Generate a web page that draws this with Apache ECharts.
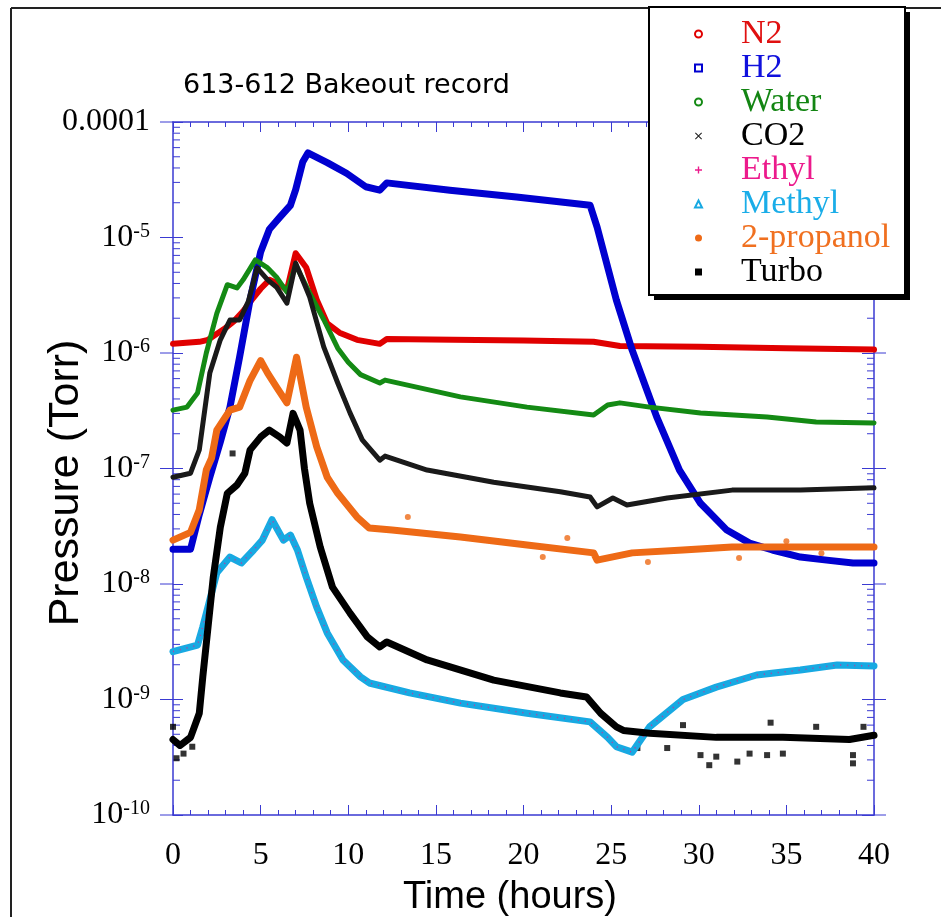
<!DOCTYPE html>
<html>
<head>
<meta charset="utf-8">
<script src="https://cdn.jsdelivr.net/npm/echarts@6/dist/echarts.min.js"></script>
<style>
html,body{margin:0;padding:0;background:#fff;}
#chart{width:941px;height:917px;}
</style>
</head>
<body>
<div id="chart"></div>
<script>
// ---------- data ----------
const xTicks = [0, 5, 10, 15, 20, 25, 30, 35, 40];
const yDecades = [-10, -9, -8, -7, -6, -5, -4];

const n2Time = [0, 1.5, 2, 3, 3.5, 4, 4.5, 5, 5.5, 6, 6.5, 7, 7.6, 8.2, 8.8, 9.5, 10.5, 11.8, 12.2, 16, 20, 24, 25.5, 30, 35, 40];
const n2Pres = [1.2e-6, 1.25e-6, 1.3e-6, 1.65e-6, 1.9e-6, 2.3e-6, 2.9e-6, 3.6e-6, 4.3e-6, 4.0e-6, 3.5e-6, 7.3e-6, 5.5e-6, 2.9e-6, 1.8e-6, 1.5e-6, 1.3e-6, 1.2e-6, 1.32e-6, 1.3e-6, 1.28e-6, 1.25e-6, 1.15e-6, 1.13e-6, 1.1e-6, 1.07e-6];

const h2Time = [0, 1, 1.5, 2.1, 2.7, 3.25, 3.8, 4.4, 5.0, 5.5, 6.1, 6.7, 7.0, 7.4, 7.7, 8.8, 9.9, 11.0, 11.8, 12.2, 15.8, 19.6, 23.8, 24.2, 25.3, 26.2, 27.1, 27.6, 28.9, 30.1, 31.6, 32.9, 34.2, 35.8, 37.3, 38.8, 40];
const h2Pres = [2.0e-8, 2.0e-8, 4.0e-8, 8.4e-8, 1.7e-7, 3.4e-7, 9.2e-7, 2.9e-6, 7.5e-6, 1.18e-5, 1.5e-5, 1.9e-5, 2.6e-5, 4.5e-5, 5.4e-5, 4.45e-5, 3.6e-5, 2.75e-5, 2.57e-5, 2.97e-5, 2.57e-5, 2.24e-5, 1.9e-5, 1.23e-5, 2.87e-6, 1.06e-6, 4.5e-7, 2.8e-7, 9.7e-8, 5.0e-8, 2.93e-8, 2.26e-8, 1.97e-8, 1.71e-8, 1.61e-8, 1.52e-8, 1.52e-8];

const waterTime = [0, 0.8, 1.4, 1.9, 2.5, 3.1, 3.65, 4.0, 4.7, 5.4, 5.9, 6.5, 7.0, 7.8, 8.6, 9.4, 10.0, 10.7, 11.8, 12.1, 16.4, 20.2, 24.0, 24.8, 25.5, 27.2, 30.1, 33.9, 36.7, 40];
const waterPres = [3.2e-7, 3.4e-7, 4.5e-7, 1.0e-6, 2.2e-6, 3.9e-6, 3.66e-6, 4.3e-6, 6.4e-6, 5.45e-6, 4.55e-6, 3.37e-6, 5.8e-6, 3.3e-6, 1.95e-6, 1.1e-6, 8.3e-7, 6.5e-7, 5.5e-7, 5.83e-7, 4.17e-7, 3.4e-7, 2.9e-7, 3.55e-7, 3.7e-7, 3.4e-7, 3.03e-7, 2.79e-7, 2.53e-7, 2.48e-7];

const co2Time = [0, 1.0, 1.5, 2.1, 2.7, 3.25, 3.8, 4.3, 4.8, 5.4, 5.9, 6.5, 7.0, 7.8, 8.6, 9.4, 10.1, 10.8, 11.8, 12.1, 14.5, 18.3, 22.1, 23.8, 24.2, 25.1, 25.9, 28.2, 31.9, 35.8, 40];
const co2Pres = [8.4e-8, 9.1e-8, 1.45e-7, 6.7e-7, 1.3e-6, 1.93e-6, 1.93e-6, 2.8e-6, 5.45e-6, 4.3e-6, 3.73e-6, 2.7e-6, 6.0e-6, 3.05e-6, 1.13e-6, 5.5e-7, 3.03e-7, 1.77e-7, 1.18e-7, 1.28e-7, 9.7e-8, 7.6e-8, 6.3e-8, 5.67e-8, 4.65e-8, 5.55e-8, 4.83e-8, 5.55e-8, 6.5e-8, 6.5e-8, 6.8e-8];

const ethylTime = [0, 1.4, 1.7, 2.1, 2.5, 3.25, 3.9, 4.6, 5.1, 5.65, 6.3, 6.7, 7.1, 7.6, 8.2, 8.8, 9.7, 10.7, 11.2, 13.5, 16.4, 20.2, 23.8, 24.8, 25.3, 26.2, 27.2, 29.1, 31.0, 33.3, 35.8, 37.9, 40];
const ethylPres = [2.6e-9, 2.96e-9, 4.25e-9, 7.3e-9, 1.25e-8, 1.71e-8, 1.52e-8, 1.97e-8, 2.4e-8, 3.6e-8, 2.4e-8, 2.65e-8, 1.97e-8, 1.15e-8, 6.3e-9, 3.77e-9, 2.2e-9, 1.57e-9, 1.39e-9, 1.14e-9, 9.3e-10, 7.6e-10, 6.4e-10, 4.7e-10, 3.9e-10, 3.5e-10, 5.8e-10, 1.0e-9, 1.28e-9, 1.63e-9, 1.8e-9, 1.99e-9, 1.95e-9];

const methylTime = [0, 1.4, 1.7, 2.1, 2.5, 3.25, 3.9, 4.6, 5.1, 5.65, 6.3, 6.7, 7.1, 7.6, 8.2, 8.8, 9.7, 10.7, 11.2, 13.5, 16.4, 20.2, 23.8, 24.8, 25.3, 26.2, 27.2, 29.1, 31.0, 33.3, 35.8, 37.9, 40];
const methylPres = [2.6e-9, 2.96e-9, 4.25e-9, 7.3e-9, 1.25e-8, 1.71e-8, 1.52e-8, 1.97e-8, 2.4e-8, 3.6e-8, 2.4e-8, 2.65e-8, 1.97e-8, 1.15e-8, 6.3e-9, 3.77e-9, 2.2e-9, 1.57e-9, 1.39e-9, 1.14e-9, 9.3e-10, 7.6e-10, 6.4e-10, 4.7e-10, 3.9e-10, 3.5e-10, 5.8e-10, 1.0e-9, 1.28e-9, 1.63e-9, 1.8e-9, 1.99e-9, 1.95e-9];

const propTime = [0, 1.0, 1.5, 1.9, 2.2, 2.5, 3.25, 3.8, 4.4, 5.0, 5.4, 5.9, 6.5, 7.05, 7.6, 8.2, 8.8, 9.4, 10.5, 11.2, 12.5, 16.4, 20.2, 24.0, 24.2, 26.2, 29.1, 31.9, 40];
const propPres = [2.4e-8, 2.8e-8, 4.4e-8, 9.7e-8, 1.23e-7, 2.15e-7, 3.2e-7, 3.4e-7, 5.8e-7, 8.6e-7, 6.7e-7, 5.1e-7, 3.7e-7, 9.2e-7, 3.4e-7, 1.54e-7, 8.4e-8, 6.1e-8, 3.8e-8, 3.05e-8, 2.93e-8, 2.55e-8, 2.18e-8, 1.86e-8, 1.61e-8, 1.86e-8, 1.97e-8, 2.09e-8, 2.09e-8];
const propOutTime = [13.4, 21.1, 22.5, 27.1, 32.3, 35.0, 37.0];
const propOutPres = [3.8e-8, 1.71e-8, 2.5e-8, 1.55e-8, 1.68e-8, 2.35e-8, 1.85e-8];

const turboTime = [0, 0.4, 1.0, 1.5, 1.7, 2.0, 2.3, 2.7, 3.1, 3.65, 4.1, 4.4, 5.0, 5.5, 6.1, 6.5, 6.85, 7.25, 7.5, 7.8, 8.4, 9.1, 10.1, 11.1, 11.8, 12.2, 14.5, 18.3, 22.1, 23.6, 24.4, 25.3, 25.7, 27.2, 31.0, 34.8, 38.6, 40];
const turboPres = [4.5e-10, 4.0e-10, 4.7e-10, 7.6e-10, 1.57e-9, 4.25e-9, 1.15e-8, 3.1e-8, 6.1e-8, 7.2e-8, 9.1e-8, 1.45e-7, 1.87e-7, 2.15e-7, 1.87e-7, 1.66e-7, 3.0e-7, 2.15e-7, 1.0e-7, 5.0e-8, 2.09e-8, 9.4e-9, 5.6e-9, 3.47e-9, 2.85e-9, 3.15e-9, 2.2e-9, 1.47e-9, 1.14e-9, 1.05e-9, 7.6e-10, 5.8e-10, 5.4e-10, 5.1e-10, 4.7e-10, 4.7e-10, 4.5e-10, 4.9e-10];
const turboOutTime = [0.0, 0.2, 0.6, 1.1, 3.4, 26.5, 28.2, 29.1, 30.1, 30.6, 31.0, 32.2, 32.9, 33.9, 34.1, 34.8, 36.7, 38.8, 38.8, 39.4];
const turboOutPres = [5.8e-10, 3.1e-10, 3.4e-10, 3.9e-10, 1.35e-7, 3.8e-10, 3.8e-10, 6.0e-10, 3.3e-10, 2.7e-10, 3.2e-10, 2.9e-10, 3.4e-10, 3.3e-10, 6.3e-10, 3.4e-10, 5.8e-10, 2.8e-10, 3.3e-10, 5.8e-10];

// ---------- style ----------
const AX = '#3a3ad2';
const SERIF = '"Liberation Serif", "Times New Roman", serif';
const SANS = '"Liberation Sans", Arial, sans-serif';

const pairs = (t, p) => t.map((x, i) => [x, p[i]]);

// log axis tick marks (minor inside, major outward extensions)
const logTickData = [];
yDecades.forEach(e => {
  logTickData.push([0, Math.pow(10, e), -13]);
  logTickData.push([40, Math.pow(10, e), 12]);
  if (e < -4) {
    for (let k = 2; k <= 9; k++) {
      logTickData.push([0, k * Math.pow(10, e), 7]);
      logTickData.push([40, k * Math.pow(10, e), -7]);
    }
  }
});

const chart = echarts.init(document.getElementById('chart'), null, {renderer: 'canvas'});

const lineSeries = (name, t, p, color, width, extra) => Object.assign({
  name: name, type: 'line', data: pairs(t, p), showSymbol: false, symbol: 'none',
  lineStyle: {color: color, width: width, join: 'round', cap: 'round'},
  itemStyle: {color: color}, silent: true, animation: false
}, extra || {});

const option = {
  animation: false,
  backgroundColor: '#fff',
  title: {
    text: '613-612 Bakeout record', left: 183, top: 72, padding: 0,
    textStyle: {fontFamily: '"DejaVu Sans", sans-serif', fontSize: 27, fontWeight: 'normal', color: '#000'}
  },
  grid: {left: 173, right: 67, top: 122, bottom: 102, containLabel: false, outerBoundsMode: 'none'},
  graphic: [
    {type: 'line', z: 100, shape: {x1: 11, y1: 8, x2: 11, y2: 917}, style: {stroke: '#222', lineWidth: 2}},
    {type: 'line', z: 100, shape: {x1: 11, y1: 8, x2: 941, y2: 8}, style: {stroke: '#222', lineWidth: 2}},
    {type: 'rect', z: 100, shape: {x: 654, y: 12, width: 256, height: 288}, style: {fill: '#000'}},
    {type: 'rect', z: 101, shape: {x: 649, y: 7, width: 256, height: 288}, style: {fill: '#fff', stroke: '#000', lineWidth: 2}}
  ],
  legend: {
    z: 200,
    orient: 'vertical', left: 694, top: 17, padding: 0, itemGap: 0,
    itemWidth: 7, itemHeight: 7, selectedMode: false,
    itemStyle: {borderWidth: 1},
    lineStyle: {width: 0},
    textStyle: {fontFamily: SERIF, fontSize: 34, lineHeight: 33.3, padding: [0, 0, 0, 34]},
    data: [
      {name: 'N2', icon: 'emptyCircle', textStyle: {color: '#e01010'}},
      {name: 'H2', icon: 'emptyRect', textStyle: {color: '#1010dd'}},
      {name: 'Water', icon: 'emptyCircle', textStyle: {color: '#138513'}},
      {name: 'CO2', icon: 'path://M1,0L5,4L9,0L10,1L6,5L10,9L9,10L5,6L1,10L0,9L4,5L0,1Z', textStyle: {color: '#000'}},
      {name: 'Ethyl', icon: 'path://M4,0H6V4H10V6H6V10H4V6H0V4H4Z', textStyle: {color: '#ec1a8c'}},
      {name: 'Methyl', icon: 'emptyTriangle', textStyle: {color: '#1aade8'}},
      {name: '2-propanol', icon: 'circle', textStyle: {color: '#f07020'}},
      {name: 'Turbo', icon: 'rect', textStyle: {color: '#000'}}
    ]
  },
  xAxis: [
    {
      type: 'value', position: 'bottom', min: 0, max: 40, interval: 5,
      axisLine: {onZero: false, lineStyle: {color: AX, width: 1.5}},
      axisTick: {inside: true, length: 10, lineStyle: {color: AX, width: 1}},
      minorTick: {show: true, splitNumber: 5, length: 5, lineStyle: {color: AX, width: 1}},
      splitLine: {show: false},
      axisLabel: {color: '#000', fontFamily: SERIF, fontSize: 32, margin: 25,
        formatter: v => (xTicks.indexOf(v) >= 0 ? String(v) : '')},
      name: 'Time (hours)', nameLocation: 'middle', nameGap: 64, nameMoveOverlap: false,
      nameTextStyle: {color: '#000', fontFamily: SANS, fontSize: 38, padding: [0, 27, 0, 0]}
    },
    {
      type: 'value', position: 'top', min: 0, max: 40, interval: 5,
      axisLine: {onZero: false, lineStyle: {color: AX, width: 1.5}},
      axisTick: {inside: true, length: 10, lineStyle: {color: AX, width: 1}},
      minorTick: {show: true, splitNumber: 5, length: 5, lineStyle: {color: AX, width: 1}},
      splitLine: {show: false}, axisLabel: {show: false}
    }
  ],
  yAxis: [
    {
      type: 'log', logBase: 10, position: 'left', min: 1e-10, max: 1e-4, splitNumber: 6,
      axisLine: {onZero: false, lineStyle: {color: AX, width: 1.5}},
      axisTick: {inside: true, length: 10, lineStyle: {color: AX, width: 1}},
      splitLine: {show: false},
      axisLabel: {
        margin: 23,
        formatter: v => {
          const e = Math.round(Math.log10(v));
          return e === -4 ? '{b|0.0001}' : '{b|10}{s|' + e + '}';
        },
        rich: {
          b: {fontFamily: SERIF, fontSize: 32, color: '#000'},
          s: {fontFamily: SERIF, fontSize: 20, color: '#000', verticalAlign: 'top'}
        }
      },
      name: 'Pressure (Torr)', nameLocation: 'middle', nameGap: 85, nameMoveOverlap: false,
      nameTextStyle: {color: '#000', fontFamily: SANS, fontSize: 43, padding: [0, 29, 0, 0]}
    },
    {
      type: 'log', logBase: 10, position: 'right', min: 1e-10, max: 1e-4, splitNumber: 6,
      axisLine: {onZero: false, lineStyle: {color: AX, width: 1.5}},
      axisTick: {inside: true, length: 12, lineStyle: {color: AX, width: 1}},
      splitLine: {show: false}, axisLabel: {show: false}
    }
  ],
  series: [
    {
      name: 'logTicks', type: 'custom', silent: true, clip: false, z: 1,
      data: logTickData,
      renderItem: (params, api) => {
        const p = api.coord([api.value(0), api.value(1)]);
        const L = api.value(2);
        return {type: 'line', shape: {x1: p[0], y1: p[1], x2: p[0] + L, y2: p[1]},
          style: {stroke: AX, lineWidth: 1}};
      }
    },
    lineSeries('N2', n2Time, n2Pres, '#e00000', 6),
    lineSeries('H2', h2Time, h2Pres, '#0000d0', 7),
    lineSeries('Water', waterTime, waterPres, '#148a14', 5),
    lineSeries('CO2', co2Time, co2Pres, '#1a1a1a', 5),
    lineSeries('Methyl', methylTime, methylPres, '#18a9e2', 7),
    lineSeries('Ethyl', ethylTime, ethylPres, '#ec1a8c', 1.5, {lineStyle: {color: '#ec1a8c', width: 1.5, type: [1, 6], opacity: 0.8}}),
    lineSeries('2-propanol', propTime, propPres, '#ee6a16', 7),
    {name: '2-propanol', type: 'scatter', data: pairs(propOutTime, propOutPres), symbol: 'circle', symbolSize: 6,
      itemStyle: {color: '#ee6a16'}, silent: true},
    lineSeries('Turbo', turboTime, turboPres, '#000', 7),
    {name: 'Turbo', type: 'scatter', data: pairs(turboOutTime, turboOutPres), symbol: 'rect', symbolSize: 6,
      itemStyle: {color: '#000'}, silent: true}
  ]
};
chart.setOption(option);
</script>
</body>
</html>
